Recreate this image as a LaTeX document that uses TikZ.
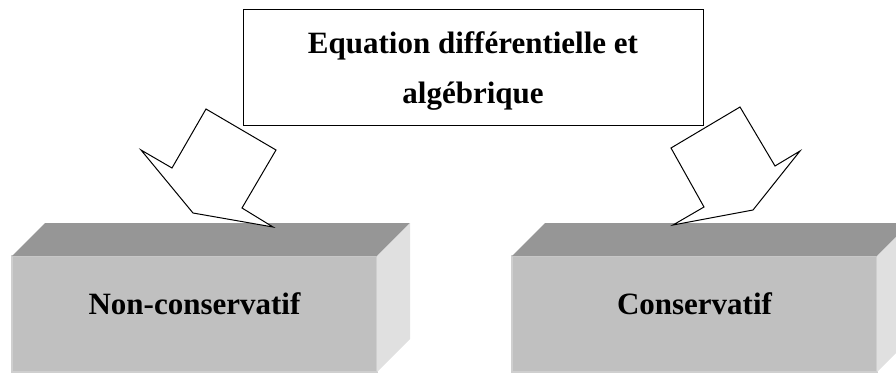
\documentclass[tikz,border=0pt]{standalone}
\usepackage{fontspec}
\setmainfont{Liberation Serif}
\usetikzlibrary{positioning, calc}
\definecolor{FrontGray}{HTML}{C0C0C0}
\definecolor{TopGray}{HTML}{969696}
\definecolor{SideGray}{HTML}{E0E0E0}
\definecolor{EdgeGray}{HTML}{CFCFCF}

\begin{document}
\begin{tikzpicture}[
    x=1pt, y=-1pt,
    titlebox/.style={
        draw=black,
        line width=1pt,
        fill=white,
        minimum width=460pt,
        minimum height=116pt,
        outer sep=0pt,
        align=center,
        font=\bfseries\fontsize{31}{50}\selectfont
    },
    front/.style={
        fill=FrontGray,
        draw=EdgeGray,
        line width=1.5pt,
        minimum width=365pt,
        minimum height=116pt,
        outer sep=0pt,
        text height=21pt,
        text depth=21pt,
        font=\bfseries\fontsize{31}{37}\selectfont
    },
    topface/.style={fill=TopGray},
    sideface/.style={fill=SideGray},
    blockarrow/.style={
        draw=black,
        fill=white,
        line width=1pt,
        line join=miter
    }
]
\useasboundingbox (0,0) rectangle (896,372);

\node[titlebox] (eq) at (473,67) {\rule{0pt}{29pt}Equation différentielle et\\algébrique};

\node[front] (nonc) at (194.5,314) {Non-conservatif};
\fill[topface] (nonc.north west) -- ++(33,-33) -- ++(365,0) -- (nonc.north east) -- cycle;
\fill[sideface] (nonc.north east) -- ++(33,-33) -- ++(0,116) -- (nonc.south east) -- cycle;

\node[front] (cons) at (694.5,314) {Conservatif};
\fill[topface] (cons.north west) -- ++(33,-33) -- ++(365,0) -- (cons.north east) -- cycle;
\fill[sideface] (cons.north east) -- ++(33,-33) -- ++(0,116) -- (cons.south east) -- cycle;

\draw[blockarrow] (206,109) -- (276,150) -- (242,208) -- (273,227) -- (193,213) -- (141,150) -- (172,168) -- cycle;
\draw[blockarrow] (740,107) -- (775,166) -- (800,151) -- (753,210) -- (673,225) -- (704,207) -- (671,148) -- cycle;

\end{tikzpicture}
\end{document}
